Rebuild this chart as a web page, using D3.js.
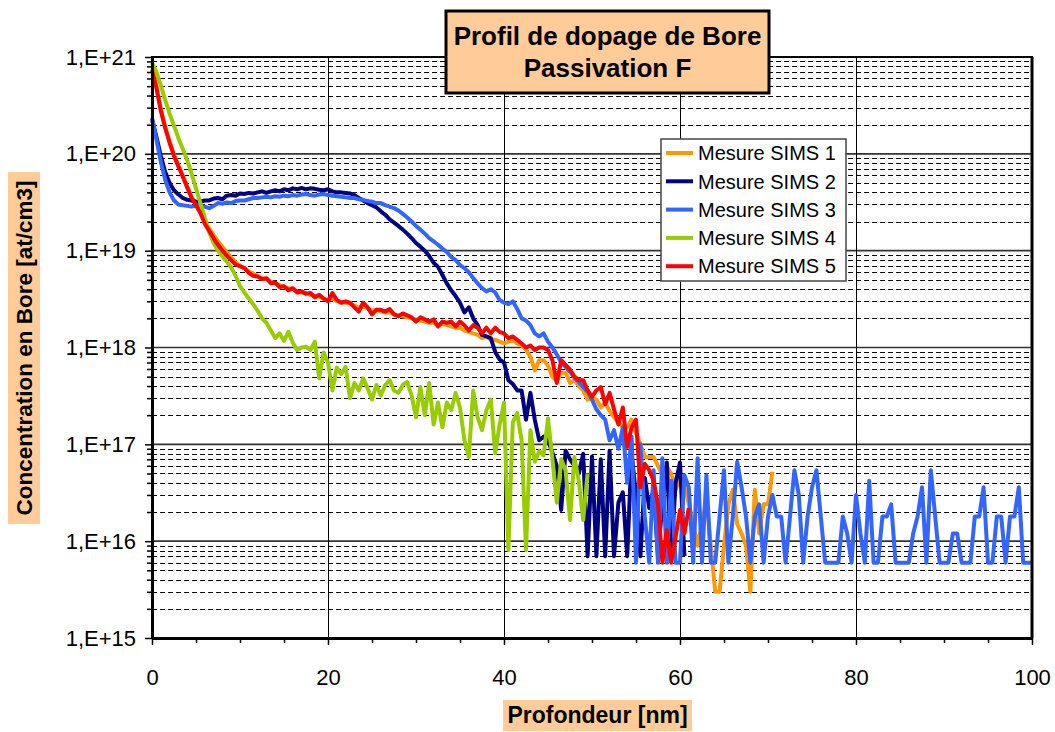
<!DOCTYPE html>
<html>
<head>
<meta charset="utf-8">
<script src="https://cdn.jsdelivr.net/npm/d3@7"></script>
<style>
  body { margin: 0; background: #fff; }
  svg text { font-family: "Liberation Sans", Arial, sans-serif; }
</style>
</head>
<body>
<div class="chart"></div>
<script>
// Profil de dopage de Bore - Passivation F
// SIMS profiles, one value every 0.5 nm starting at 0 nm (at/cm3)
let depthStep = 0.5;

let sims1 = [
  7.4e20,5.0e20,2.9e20,1.9e20,1.35e20,9.8e19,7.6e19,6.0e19,4.6e19,3.6e19,
  3.0e19,2.5e19,2.0e19,1.7e19,1.45e19,1.25e19,1.1e19,9.6e18,8.5e18,7.6e18,
  7.0e18,6.6e18,6.1e18,5.8e18,5.5e18,5.2e18,5.1e18,4.8e18,4.6e18,4.4e18,
  4.2e18,4.1e18,4.0e18,3.8e18,3.7e18,3.6e18,3.5e18,3.4e18,3.35e18,3.2e18,
  3.1e18,3.2e18,3.0e18,2.95e18,2.9e18,2.85e18,2.7e18,2.6e18,2.65e18,2.55e18,
  2.4e18,2.45e18,2.35e18,2.3e18,2.3e18,2.2e18,2.15e18,2.1e18,2.05e18,2.0e18,
  1.95e18,1.9e18,1.85e18,1.8e18,1.8e18,1.7e18,1.75e18,1.7e18,1.65e18,1.6e18,
  1.6e18,1.5e18,1.45e18,1.4e18,1.35e18,1.25e18,1.3e18,1.2e18,1.2e18,1.15e18,
  1.1e18,1.15e18,1.2e18,1.1e18,1.05e18,9.5e17,8.0e17,5.8e17,7.4e17,7.4e17,
  6.5e17,5.0e17,4.5e17,5.5e17,5.5e17,4.3e17,4.6e17,4.0e17,3.6e17,2.9e17,
  3.0e17,2.9e17,2.4e17,2.7e17,2.2e17,1.9e17,1.7e17,1.5e17,1.5e17,1.8e17,
  1.3e17,1.0e17,7.4e16,7.4e16,7.4e16,6.0e16,4.8e16,5.8e16,5.0e16,3.4e16,
  4.5e16,4.0e16,2.4e16,1.5e16,9e15,1.5e16,2.8e16,9e15,3e15,3e15,
  9e15,2.4e16,3.4e16,1.5e16,1.2e16,9e15,3e15,3.4e16,1.2e16,2.4e16,
  2.4e16,5.2e16
];

let sims2 = [
  2.3e20,1.5e20,9.5e19,6.5e19,5.0e19,4.2e19,3.8e19,3.5e19,3.35e19,3.3e19,
  3.2e19,3.2e19,3.3e19,3.3e19,3.45e19,3.5e19,3.4e19,3.7e19,3.75e19,3.7e19,
  3.9e19,3.85e19,3.95e19,3.9e19,4.0e19,4.1e19,3.95e19,4.1e19,4.2e19,4.1e19,
  4.3e19,4.2e19,4.4e19,4.3e19,4.45e19,4.3e19,4.4e19,4.35e19,4.25e19,4.2e19,
  4.3e19,4.1e19,4.0e19,4.0e19,3.95e19,3.9e19,3.75e19,3.5e19,3.3e19,3.1e19,
  2.95e19,2.8e19,2.55e19,2.35e19,2.1e19,1.95e19,1.8e19,1.65e19,1.5e19,1.35e19,
  1.2e19,1.1e19,1.0e19,8.8e18,7.5e18,6.8e18,5.6e18,4.6e18,3.9e18,3.4e18,
  2.9e18,2.3e18,2.6e18,2.0e18,1.7e18,1.35e18,1.3e18,1.25e18,9e17,7.5e17,
  7e17,4.6e17,4.2e17,3.6e17,3.6e17,1.8e17,3.4e17,1.8e17,1.1e17,1.2e17,
  1.1e17,8.2e16,6e16,2.1e16,8.6e16,7e16,6e16,5e16,8e16,7e15,
  7.5e16,7e15,7e16,7e15,8.6e16,7e15,2.5e16,3.2e16,7e15,8e16,
  3e16,7e15,4.5e16,2.2e16,3.5e16,7e15,2.5e16,6.5e16,7e15,4e16,
  6.5e16,7e15
];

let sims3 = [
  2.35e20,1.4e20,8.3e19,5.4e19,4.0e19,3.3e19,3.0e19,2.95e19,2.9e19,2.85e19,
  2.9e19,2.9e19,2.85e19,2.75e19,2.9e19,3.1e19,3.05e19,3.15e19,3.1e19,3.25e19,
  3.3e19,3.3e19,3.4e19,3.5e19,3.5e19,3.55e19,3.6e19,3.55e19,3.65e19,3.6e19,
  3.7e19,3.65e19,3.75e19,3.7e19,3.8e19,3.85e19,3.75e19,3.7e19,3.8e19,3.85e19,
  3.75e19,3.7e19,3.65e19,3.6e19,3.55e19,3.5e19,3.5e19,3.4e19,3.35e19,3.25e19,
  3.2e19,3.1e19,3.1e19,2.95e19,2.85e19,2.75e19,2.6e19,2.4e19,2.2e19,2.0e19,
  1.8e19,1.65e19,1.5e19,1.35e19,1.25e19,1.15e19,1.05e19,9.7e18,8.6e18,8.0e18,
  7.1e18,6.6e18,6.0e18,5.2e18,4.6e18,4.1e18,3.8e18,4.0e18,3.7e18,3.1e18,
  2.9e18,2.8e18,3.0e18,2.5e18,2.0e18,1.9e18,1.7e18,1.4e18,1.3e18,1.4e18,
  1.15e18,1.0e18,8.5e17,7.0e17,6.3e17,5.6e17,4.9e17,4.4e17,3.9e17,3.5e17,
  2.9e17,2.3e17,2.0e17,1.8e17,1.1e17,1.4e17,9e16,1.5e17,4e16,1.2e17,
  6e15,1.0e17,1.8e16,6e15,5.4e16,6e15,7.2e16,6e15,4.2e16,6e15,
  6e15,4.8e16,3.6e16,6e15,7.2e16,6e15,4.8e16,6e15,6e15,1.8e16,
  5.4e16,6e15,1.8e16,6.6e16,3.6e16,1.8e16,6e15,1.8e16,2.4e16,6e15,
  1.8e16,3e16,1.8e16,1.8e16,6e15,1.8e16,5.4e16,3e16,6e15,1.8e16,
  3.6e16,5.4e16,1.8e16,6e15,6e15,6e15,6e15,1.8e16,1.2e16,6e15,
  3e16,1.2e16,6e15,4.2e16,6e15,6e15,1.8e16,1.8e16,2.4e16,6e15,
  6e15,6e15,6e15,1.2e16,1.8e16,3.6e16,6e15,5.4e16,1.8e16,6e15,
  6e15,6e15,1.2e16,1.2e16,6e15,6e15,6e15,1.8e16,1.8e16,3.6e16,
  6e15,6e15,1.8e16,1.8e16,6e15,1.8e16,1.8e16,3.6e16,6e15,6e15,
  6e15
];

let sims4 = [
  8.7e20,7.0e20,5.1e20,3.6e20,2.6e20,1.95e20,1.45e20,1.12e20,8.6e19,6.2e19,
  4.4e19,3.1e19,2.2e19,1.55e19,1.2e19,1.0e19,8.7e18,7.7e18,6.7e18,5.5e18,
  4.3e18,3.7e18,3.2e18,2.8e18,2.4e18,2.0e18,1.8e18,1.5e18,1.25e18,1.4e18,
  1.17e18,1.45e18,1.12e18,9.4e17,1.0e18,1.02e18,9.4e17,1.15e18,4.8e17,8.9e17,
  7.0e17,3.6e17,6.2e17,5.3e17,6.3e17,3.0e17,4.3e17,3.6e17,4.8e17,3.8e17,
  2.9e17,4.1e17,3.2e17,4.1e17,4.6e17,3.6e17,3.4e17,4.1e17,4.4e17,3.2e17,
  1.9e17,3.9e17,2.0e17,4.3e17,1.6e17,2.7e17,1.5e17,2.7e17,2.25e17,3.4e17,
  2.4e17,1.1e17,7.4e16,3.6e17,1.9e17,1.4e17,2.25e17,2.9e17,8.1e16,1.6e17,
  2.7e17,8.1e15,1.7e17,2.1e17,1.1e17,8.1e15,1.4e17,6.6e16,8.5e16,7.7e16,
  1.85e17,7e16,2.5e16,7e16,5.4e16,1.65e16,7.4e16,4.2e16,1.65e16,5e16
];

let sims5 = [
  7.3e20,4.8e20,2.8e20,1.85e20,1.3e20,9.5e19,7.4e19,5.8e19,4.5e19,3.5e19,
  2.95e19,2.45e19,1.9e19,1.6e19,1.35e19,1.15e19,1.0e19,8.9e18,8.0e18,7.2e18,
  6.9e18,6.6e18,5.9e18,5.5e18,5.4e18,5.1e18,5.2e18,4.6e18,4.7e18,4.2e18,
  4.3e18,3.9e18,4.1e18,3.7e18,3.8e18,3.6e18,3.65e18,3.3e18,3.5e18,3.2e18,
  3.0e18,3.65e18,3.1e18,2.9e18,3.0e18,2.9e18,2.6e18,2.35e18,2.9e18,2.6e18,
  2.2e18,2.45e18,2.45e18,2.35e18,2.5e18,2.2e18,2.1e18,2.25e18,2.15e18,2.05e18,
  1.85e18,2.05e18,1.95e18,1.85e18,1.95e18,1.65e18,1.85e18,1.8e18,1.85e18,1.65e18,
  1.85e18,1.7e18,1.5e18,1.7e18,1.6e18,1.4e18,1.6e18,1.4e18,1.6e18,1.45e18,
  1.4e18,1.25e18,1.3e18,1.2e18,1.1e18,1.0e18,1.05e18,9.4e17,1.0e18,1.0e18,
  9.4e17,7.4e17,4.3e17,7.4e17,6.6e17,5.9e17,5.0e17,4.6e17,4.6e17,3.6e17,
  3.1e17,3.6e17,3.9e17,2.6e17,3.4e17,2.3e17,1.6e17,2.4e17,9.4e16,1.5e17,
  1.8e17,3.6e16,6.3e16,5.4e16,4.2e16,2.4e16,6e15,1.3e16,6e15,1.1e16,
  2.1e16,1.2e16,2.2e16
];

let seriesNames = ["Mesure SIMS 1", "Mesure SIMS 2", "Mesure SIMS 3", "Mesure SIMS 4", "Mesure SIMS 5"];
let seriesData = [sims1, sims2, sims3, sims4, sims5];
let seriesColors = ["#FF9900", "#000080", "#3366FF", "#99CC00", "#FF0000"];

let xTicks = [0, 20, 40, 60, 80, 100];
let xMinorTicks = [5, 10, 15, 25, 30, 35, 45, 50, 55, 65, 70, 75, 85, 90, 95];
let yDecades = [1e15, 1e16, 1e17, 1e18, 1e19, 1e20, 1e21];
let yMinor = [];
yDecades.slice(0, -1).forEach(function(dec) {
  for (let k = 2; k <= 9; k++) yMinor.push(k * dec);
});

let titleLines = ["Profil de dopage de Bore", "Passivation F"];
let xTitle = "Profondeur [nm]";
let yTitle = "Concentration en Bore [at/cm3]";

let svgWidth = 1055;
let svgHeight = 732;
let margin = { top: 57, right: 23, bottom: 94, left: 152 };
let width = svgWidth - margin.left - margin.right;
let height = svgHeight - margin.top - margin.bottom;

let svg = d3.select(".chart").append("svg")
  .attr("width", svgWidth)
  .attr("height", svgHeight);

let chartGroup = svg.append("g")
  .attr("transform", `translate(${margin.left}, ${margin.top})`);

let xScale = d3.scaleLinear().domain([0, 100]).range([0, width]);
let yScale = d3.scaleLog().domain([1e15, 1e21]).range([height, 0]);

// grid: dashed minor lines, solid decades, solid vertical lines
chartGroup.append("g").selectAll("line")
  .data(yMinor).enter().append("line")
  .attr("x1", 0).attr("x2", width)
  .attr("y1", d => Math.round(yScale(d)) + 0.5)
  .attr("y2", d => Math.round(yScale(d)) + 0.5)
  .attr("stroke", "#000").attr("stroke-width", 1)
  .attr("stroke-dasharray", "5,3");

chartGroup.append("g").selectAll("line")
  .data(yDecades.slice(1, -1)).enter().append("line")
  .attr("x1", 0).attr("x2", width)
  .attr("y1", d => yScale(d)).attr("y2", d => yScale(d))
  .attr("stroke", "#333").attr("stroke-width", 1.6);

chartGroup.append("g").selectAll("line")
  .data(xTicks.slice(1, -1)).enter().append("line")
  .attr("x1", d => Math.round(xScale(d)) + 0.5).attr("x2", d => Math.round(xScale(d)) + 0.5)
  .attr("y1", 0).attr("y2", height)
  .attr("stroke", "#000").attr("stroke-width", 1);

// plot frame
chartGroup.append("rect")
  .attr("width", width).attr("height", height)
  .attr("fill", "none").attr("stroke", "#000").attr("stroke-width", 2);

// series
let line = d3.line()
  .x((d, i) => xScale(i * depthStep))
  .y(d => yScale(d));

seriesData.forEach(function(values, i) {
  chartGroup.append("path")
    .datum(values)
    .attr("d", line)
    .attr("fill", "none")
    .attr("stroke", seriesColors[i])
    .attr("stroke-width", 4)
    .attr("stroke-linejoin", "round");
});

// axes
let leftAxis = d3.axisLeft(yScale)
  .tickValues(yDecades)
  .tickFormat(d => "1,E+" + Math.round(Math.log10(d)))
  .tickSize(7).tickSizeOuter(0).tickPadding(9);
let yAxisG = chartGroup.append("g").call(leftAxis);

let leftMinor = d3.axisLeft(yScale).tickValues(yMinor).tickFormat("").tickSize(5).tickSizeOuter(0);
let yMinorG = chartGroup.append("g").call(leftMinor);
yMinorG.select(".domain").remove();

let bottomAxis = d3.axisBottom(xScale)
  .tickValues(xTicks)
  .tickSize(7).tickSizeOuter(0).tickPadding(24);
let xAxisG = chartGroup.append("g")
  .attr("transform", `translate(0, ${height})`)
  .call(bottomAxis);

let bottomMinor = d3.axisBottom(xScale).tickValues(xMinorTicks).tickFormat("").tickSize(5).tickSizeOuter(0);
let xMinorG = chartGroup.append("g")
  .attr("transform", `translate(0, ${height})`)
  .call(bottomMinor);
xMinorG.select(".domain").remove();

[yAxisG, xAxisG].forEach(function(g) {
  g.select(".domain").attr("stroke-width", 3);
  g.selectAll(".tick line").attr("stroke-width", 1.5);
  g.selectAll("text").attr("font-size", "22px").attr("fill", "#000")
    .style("font-family", "'Liberation Sans', Arial, sans-serif");
});
[yMinorG, xMinorG].forEach(g => g.selectAll(".tick line").attr("stroke-width", 1.5));
// right border is drawn bold too
chartGroup.append("line")
  .attr("x1", width).attr("x2", width).attr("y1", 0).attr("y2", height)
  .attr("stroke", "#000").attr("stroke-width", 3);

// title box
svg.append("rect")
  .attr("x", 446).attr("y", 11).attr("width", 323).attr("height", 82)
  .attr("fill", "#FFCC99").attr("stroke", "#000").attr("stroke-width", 3);
svg.selectAll(".title").data(titleLines).enter().append("text")
  .attr("class", "title")
  .attr("x", 607.5).attr("y", (d, i) => 45 + i * 32)
  .attr("text-anchor", "middle")
  .attr("font-size", "26px").attr("font-weight", "bold")
  .text(d => d);

// legend
let legend = svg.append("g").attr("transform", "translate(661, 139)");
legend.append("rect")
  .attr("width", 185).attr("height", 142)
  .attr("fill", "#fff").attr("stroke", "#444").attr("stroke-width", 1.5);
seriesNames.forEach(function(name, i) {
  let yy = 14 + i * 28.3;
  legend.append("line")
    .attr("x1", 5).attr("x2", 32).attr("y1", yy).attr("y2", yy)
    .attr("stroke", seriesColors[i]).attr("stroke-width", 4);
  legend.append("text")
    .attr("x", 37).attr("y", yy).attr("dy", "0.36em")
    .attr("font-size", "20px")
    .text(name);
});

// axis titles with peach background
svg.append("rect")
  .attr("x", 503).attr("y", 700).attr("width", 189).attr("height", 31)
  .attr("fill", "#FFCC99");
svg.append("text")
  .attr("x", 597.5).attr("y", 723)
  .attr("text-anchor", "middle")
  .attr("font-size", "23px").attr("font-weight", "bold")
  .text(xTitle);

svg.append("rect")
  .attr("x", 8).attr("y", 172).attr("width", 32).attr("height", 352)
  .attr("fill", "#FFCC99");
svg.append("text")
  .attr("transform", "translate(32, 348) rotate(-90)")
  .attr("text-anchor", "middle")
  .attr("font-size", "22.5px").attr("font-weight", "bold")
  .text(yTitle);
</script>
</body>
</html>
